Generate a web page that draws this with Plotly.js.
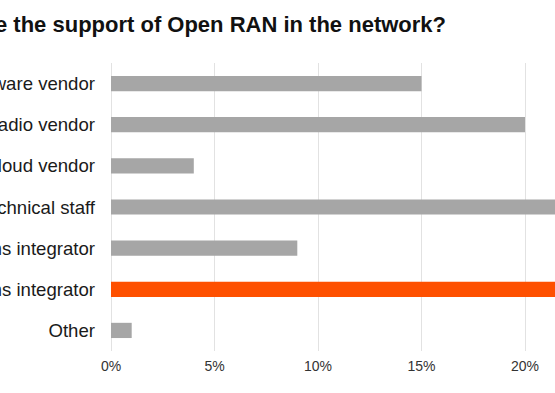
<!DOCTYPE html>
<html><head><meta charset="utf-8">
<script src="https://cdn.plot.ly/plotly-3.0.1.min.js"></script>
<style>
html,body{margin:0;padding:0;width:555px;height:393px;overflow:hidden;background:#fff;}
#wrap{position:absolute;left:0;top:0;width:555px;height:393px;overflow:hidden;}
#chart{position:absolute;left:-300px;top:0;width:1100px;height:393px;}
</style></head>
<body><div id="wrap"><div id="chart"></div></div>
<script>
const categories = ["Software vendor","Radio vendor","Cloud vendor","Own technical staff","Third-party systems integrator","Open RAN systems integrator","Other"];
const values = [15, 20, 4, 23, 9, 28, 1];
const barColors = ["#a6a6a6","#a6a6a6","#a6a6a6","#a6a6a6","#a6a6a6","#fe5000","#a6a6a6"];
const tickVals = [0,5,10,15,20];
const tickText = ["0%","5%","10%","15%","20%"];
const titleText = "Who would you like to provide the support of Open RAN in the network?";

const divW = 1100;
const trace = {
  type:'bar', orientation:'h', x: values, y: categories,
  marker:{color: barColors}, hoverinfo:'none'
};
const layout = {
  width: divW, height: 393,
  margin:{l:411, r: divW-411-621, t:63, b:42, pad:0},
  paper_bgcolor:'#fff', plot_bgcolor:'#fff',
  font:{family:'Liberation Sans, Arial, sans-serif', color:'#222'},
  title:{text: titleText, font:{size:22, color:'#111', family:'Liberation Sans, Arial, sans-serif', weight:'bold'},
         xref:'container', x:(446+300)/divW, xanchor:'right', yref:'container', y:1-24/393, yanchor:'middle'},
  bargap:0.63,
  showlegend:false,
  xaxis:{range:[0,30], tickvals:tickVals, ticktext:tickText, showgrid:true, gridcolor:'#e2e2e2', gridwidth:1,
         zeroline:true, zerolinecolor:'#e2e2e2', zerolinewidth:1, showline:false, ticks:'',
         tickfont:{size:14, color:'#333'}, ticklabelstandoff:5, fixedrange:true},
  yaxis:{categoryorder:'array', categoryarray:categories, autorange:'reversed', showgrid:false, zeroline:false,
         showline:false, ticks:'', tickfont:{size:18.6, color:'#1a1a1a'}, ticklabelstandoff:15, fixedrange:true}
};
Plotly.newPlot('chart',[trace],layout,{staticPlot:true, displayModeBar:false});
</script></body></html>
